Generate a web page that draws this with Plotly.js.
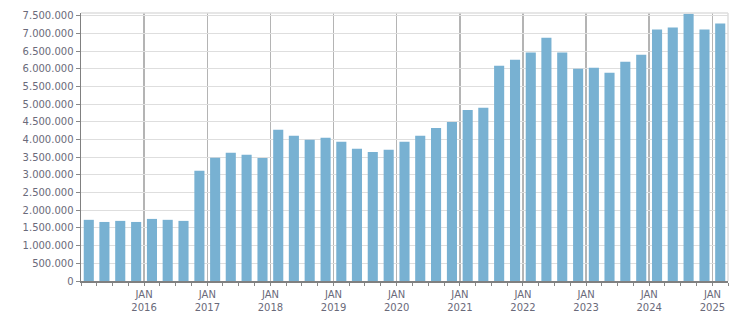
<!DOCTYPE html>
<html>
<head>
<meta charset="utf-8">
<script src="https://cdn.plot.ly/plotly-3.0.1.min.js"></script>
<style>html,body{margin:0;padding:0;background:#fff;}#chart{width:751px;height:313px;}</style>
</head>
<body>
<div id="chart"></div>
<script>
// Quarter start dates (bars are centred within each quarter)
const quarters = [
  '2015-01-01','2015-04-01','2015-07-01','2015-10-01',
  '2016-01-01','2016-04-01','2016-07-01','2016-10-01',
  '2017-01-01','2017-04-01','2017-07-01','2017-10-01',
  '2018-01-01','2018-04-01','2018-07-01','2018-10-01',
  '2019-01-01','2019-04-01','2019-07-01','2019-10-01',
  '2020-01-01','2020-04-01','2020-07-01','2020-10-01',
  '2021-01-01','2021-04-01','2021-07-01','2021-10-01',
  '2022-01-01','2022-04-01','2022-07-01','2022-10-01',
  '2023-01-01','2023-04-01','2023-07-01','2023-10-01',
  '2024-01-01','2024-04-01','2024-07-01','2024-10-01',
  '2025-01-01'
];
const values = [
  1730000, 1670000, 1700000, 1670000,
  1756000, 1730000, 1700000, 3116000,
  3484000, 3626000, 3570000, 3480000,
  4278000, 4108000, 3994000, 4050000,
  3940000, 3740000, 3650000, 3710000,
  3940000, 4110000, 4330000, 4500000,
  4840000, 4900000, 6090000, 6260000,
  6460000, 6880000, 6460000, 6006000,
  6030000, 5890000, 6200000, 6400000,
  7110000, 7170000, 7560000, 7110000,
  7280000
];
const tickDates = ['2016-01-01','2017-01-01','2018-01-01','2019-01-01','2020-01-01',
                   '2021-01-01','2022-01-01','2023-01-01','2024-01-01','2025-01-01'];
const tickLabels = ['JAN<br>2016','JAN<br>2017','JAN<br>2018','JAN<br>2019','JAN<br>2020',
                    'JAN<br>2021','JAN<br>2022','JAN<br>2023','JAN<br>2024','JAN<br>2025'];

const dayMs = 86400000;
const barWidth = 0.64 * 91.3 * dayMs;

const font = {family: '"DejaVu Sans", Verdana, sans-serif', size: 10, color: '#6a6a7a'};

Plotly.newPlot('chart', [{
  type: 'bar',
  x: quarters,
  y: values,
  xperiod: 'M3',
  xperiodalignment: 'middle',
  width: barWidth,
  marker: {color: '#78b1d2'},
  hoverinfo: 'x+y'
}], {
  width: 751, height: 313,
  margin: {l: 81, r: 23, t: 13, b: 32, pad: 0},
  paper_bgcolor: '#fff', plot_bgcolor: '#fff',
  separators: ',.',
  showlegend: false,
  font: font,
  xaxis: {
    type: 'date',
    range: ['2015-01-01', '2025-04-01'],
    tickmode: 'array',
    tickvals: tickDates,
    ticktext: tickLabels,
    ticks: 'outside', ticklen: 3, tickcolor: '#888',
    showgrid: true, gridcolor: '#b4b4b4', gridwidth: 1.5,
    showline: true, linecolor: '#808080', linewidth: 1.5,
    zeroline: false,
    tickfont: font,
    minor: {tick0: '2015-01-01', dtick: 'M3', ticks: 'outside', ticklen: 3, tickcolor: '#888', showgrid: false}
  },
  yaxis: {
    range: [0, 7580000],
    dtick: 500000, tick0: 0,
    tickformat: ',d',
    ticks: 'outside', ticklen: 4, tickcolor: '#888',
    showgrid: true, gridcolor: '#dedede', gridwidth: 1,
    showline: true, linecolor: '#808080', linewidth: 1.5,
    zeroline: false,
    tickfont: font
  },
  shapes: [
    {type: 'line', xref: 'paper', yref: 'paper', x0: 0, x1: 1, y0: 1, y1: 1, line: {color: '#dedede', width: 1.5}},
    {type: 'line', xref: 'paper', yref: 'paper', x0: 1, x1: 1, y0: 0, y1: 1, line: {color: '#dedede', width: 1.5}}
  ]
}, {displayModeBar: false, staticPlot: true});
</script>
</body>
</html>
